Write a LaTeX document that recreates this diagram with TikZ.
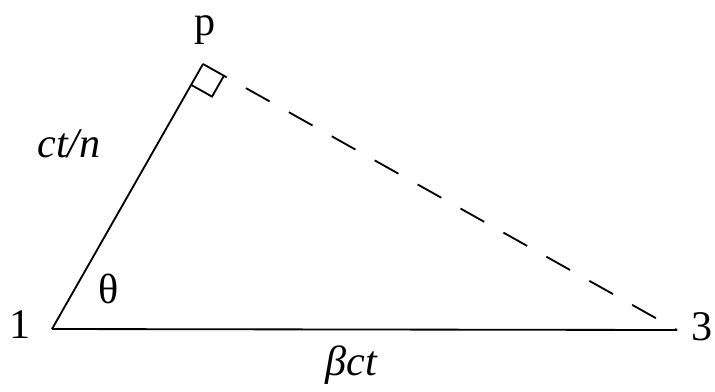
\documentclass[tikz,border=0pt]{standalone}
\usepackage{fontspec}
\setmainfont{Liberation Serif}
\usetikzlibrary{calc}

\begin{document}
\begin{tikzpicture}[x=0.025cm, y=-0.025cm,
	side/.style={draw, line width=1.3pt},
	longdash/.style={side, dash pattern=on 0.68cm off 0.55cm},
	lbl/.style={anchor=base, inner sep=0pt, font=\fontsize{30}{34}\selectfont}]
\useasboundingbox (0,0) rectangle (715,391);

	\coordinate (one) at (52,329);
	\coordinate (p) at (203,64);
	\coordinate (three) at (677,330);

	% right-angle mark at p
	\coordinate (sq1) at ($(p)!0.6cm!(one)$);
	\coordinate (sq3) at ($(p)!0.6cm!(three)$);
	\coordinate (sqc) at ($(sq1)+(sq3)-(p)$);

	\node[lbl] (lone) at (20,338) {1};
	\node[lbl] (lthree) at (702,340) {3};
	\node[lbl] (lp) at (205,35) {p};
	\node[lbl] (ltheta) at (109,303) {θ};
	\node[lbl] (lctn) at (69,157) {\textit{ct/n}};
	\node[lbl] (lbct) at (352,375) {\textit{β}\textit{ct}};

	\draw[side] (one) -- (p);
	\draw[side] (one) -- (three);
	\draw[longdash] (p) -- (three);
	\draw[side] (sq1) -- (sqc) -- (sq3);
\end{tikzpicture}
\end{document}
